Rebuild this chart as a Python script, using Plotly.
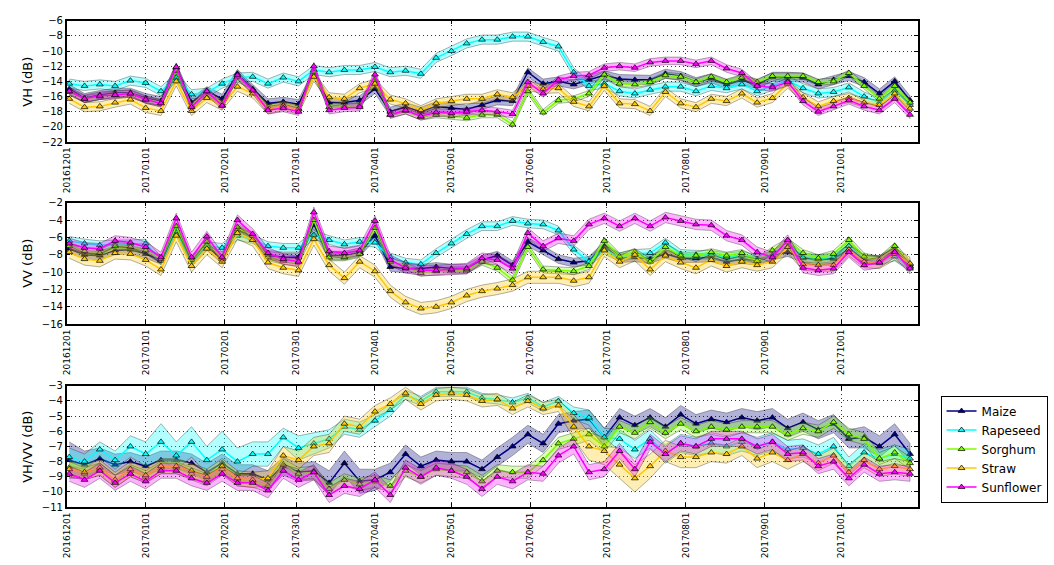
import datetime as dt
import plotly.graph_objects as go

# Acquisition dates: 6-day revisit from 2016-12-02
start = dt.date(2016, 12, 2)
dates = [start + dt.timedelta(days=6 * k) for k in range(56)]

crops = ["Maize", "Rapeseed", "Sorghum", "Straw", "Sunflower"]
colors = {"Maize": "#000080", "Rapeseed": "#00FFFF", "Sorghum": "#7CFC00",
          "Straw": "#FFC800", "Sunflower": "#FF00FF"}

# ---- VH backscatter (dB), mean per crop ----
vh_maize = [-15.0, -16.2, -15.8, -15.5, -15.5, -16.2, -16.6, -12.2, -16.8, -15.3, -16.3, -13.0, -15.0, -16.9,
            -16.7, -17.0, -13.0, -16.8, -16.8, -16.5, -15.0, -18.0, -17.4, -18.0, -17.3, -17.5, -17.7, -17.1,
            -16.5, -16.6, -12.8, -14.3, -14.0, -14.4, -13.8, -13.2, -13.7, -13.8, -13.8, -13.0, -13.3, -14.1,
            -13.6, -14.4, -13.8, -14.4, -13.4, -13.4, -13.5, -14.4, -13.8, -13.3, -14.1, -15.6, -14.0, -16.5]
vh_rapeseed = [-14.3, -14.6, -14.4, -14.6, -13.9, -14.2, -15.3, -13.5, -15.7, -15.5, -14.3, -13.5, -13.4, -14.3,
               -13.5, -14.0, -12.5, -12.8, -12.5, -12.5, -12.1, -12.8, -12.6, -13.0, -10.9, -10.0, -9.0, -8.5,
               -8.5, -8.1, -8.1, -8.8, -9.4, -12.8, -14.6, -14.3, -15.3, -15.6, -15.1, -14.7, -14.7, -15.3,
               -14.6, -14.9, -14.4, -15.3, -14.6, -13.9, -14.9, -15.6, -15.4, -14.8, -16.0, -16.8, -15.2, -17.1]
vh_sorghum = [-15.4, -16.3, -16.0, -15.7, -15.6, -16.4, -16.8, -12.6, -17.2, -15.4, -16.9, -13.4, -15.2, -17.4,
              -17.2, -17.6, -12.8, -17.4, -17.3, -17.2, -13.8, -18.4, -17.9, -18.7, -18.4, -18.6, -18.8, -18.4,
              -18.4, -19.7, -15.3, -18.1, -16.5, -16.3, -15.6, -13.1, -14.3, -14.4, -14.1, -13.2, -13.4, -14.1,
              -13.4, -14.1, -13.5, -14.1, -13.3, -13.3, -13.3, -14.1, -14.0, -12.9, -14.6, -16.3, -14.6, -16.8]
vh_straw = [-16.3, -17.4, -17.3, -16.8, -16.4, -17.5, -17.9, -14.0, -17.9, -16.2, -17.2, -14.7, -15.6, -17.7,
            -17.2, -17.7, -13.4, -16.1, -16.3, -14.9, -14.3, -16.4, -16.9, -17.8, -16.9, -16.6, -16.3, -16.3,
            -15.7, -16.1, -14.6, -15.0, -14.9, -16.7, -17.3, -14.6, -16.9, -17.0, -17.9, -15.4, -16.9, -17.4,
            -16.3, -16.6, -15.6, -16.8, -16.2, -14.3, -16.1, -17.3, -16.6, -16.2, -16.8, -17.1, -15.6, -17.6]
vh_sunflower = [-15.3, -16.3, -15.9, -15.8, -15.6, -16.4, -16.9, -12.1, -17.4, -15.3, -17.2, -13.2, -15.2, -17.8,
                -17.5, -18.0, -12.0, -17.8, -17.5, -17.4, -13.1, -18.4, -17.8, -18.6, -18.1, -18.2, -18.0, -17.8,
                -18.0, -18.3, -14.1, -15.6, -13.8, -13.3, -13.2, -12.2, -12.0, -12.2, -11.5, -11.3, -11.3, -11.7,
                -11.3, -12.3, -12.9, -14.6, -14.8, -14.1, -16.6, -18.0, -17.3, -16.5, -17.3, -17.8, -16.3, -18.4]

# ---- VV backscatter (dB) ----
vv_maize = [-7.3, -8.0, -8.1, -7.5, -7.4, -7.9, -8.6, -5.1, -8.8, -7.0, -8.5, -5.1, -6.0, -8.1,
            -8.3, -8.3, -4.5, -8.1, -8.1, -7.7, -5.8, -9.4, -9.6, -9.6, -9.4, -9.6, -9.6, -8.6,
            -8.1, -9.2, -6.5, -7.5, -8.5, -8.9, -8.7, -7.0, -8.4, -8.3, -8.5, -7.9, -8.4, -8.4,
            -8.3, -8.8, -8.5, -8.7, -8.1, -7.7, -8.4, -8.5, -8.5, -7.3, -8.6, -8.6, -7.5, -9.3]
vv_rapeseed = [-6.4, -6.7, -6.9, -6.8, -6.8, -6.7, -8.7, -5.3, -8.8, -7.0, -7.2, -5.8, -6.2, -7.0,
               -7.2, -7.2, -5.7, -6.3, -6.8, -6.5, -6.6, -8.3, -8.9, -9.1, -7.8, -6.7, -5.6, -4.7,
               -4.7, -4.1, -4.4, -4.5, -5.2, -7.4, -8.8, -7.4, -8.3, -7.9, -7.8, -6.6, -7.9, -8.0,
               -8.0, -8.3, -8.1, -8.5, -8.1, -6.6, -8.3, -8.5, -8.3, -7.0, -8.5, -8.7, -8.2, -9.4]
vv_sorghum = [-7.0, -7.6, -7.8, -7.0, -7.1, -7.5, -8.5, -4.7, -8.6, -6.5, -8.4, -4.8, -5.8, -8.3,
              -8.7, -8.9, -4.0, -8.3, -8.3, -7.9, -4.9, -8.8, -9.3, -10.1, -9.9, -9.8, -9.8, -8.8,
              -9.5, -10.9, -7.1, -9.7, -9.8, -9.9, -9.3, -6.4, -8.2, -7.7, -8.8, -7.1, -8.1, -8.1,
              -7.7, -8.1, -7.8, -8.7, -7.5, -6.5, -7.8, -8.4, -7.9, -6.3, -8.2, -8.6, -7.0, -9.1]
vv_straw = [-7.7, -8.5, -8.7, -7.8, -7.9, -8.6, -9.7, -5.8, -9.3, -7.3, -8.8, -5.5, -6.3, -8.9,
            -9.5, -9.8, -6.2, -9.2, -10.7, -8.8, -9.9, -12.2, -13.5, -14.2, -14.0, -13.5, -12.7, -12.2,
            -11.9, -11.5, -10.6, -10.6, -10.6, -11.0, -10.6, -7.5, -8.8, -8.0, -9.7, -8.1, -8.9, -9.5,
            -8.6, -9.3, -8.8, -9.2, -8.8, -7.1, -9.1, -9.2, -9.2, -7.4, -8.8, -8.9, -7.9, -9.0]
vv_sunflower = [-6.7, -7.2, -7.3, -6.4, -6.6, -7.1, -8.3, -3.8, -8.3, -5.9, -8.3, -4.0, -5.6, -7.8,
                -8.5, -8.8, -3.1, -7.6, -7.8, -7.5, -4.1, -8.6, -9.5, -9.8, -9.8, -9.7, -9.6, -8.4,
                -8.6, -9.6, -5.5, -7.0, -6.1, -6.4, -4.5, -3.8, -4.7, -3.8, -4.7, -3.7, -4.1, -4.5,
                -4.6, -5.8, -6.3, -7.7, -8.3, -6.3, -9.5, -9.8, -9.6, -7.7, -9.2, -8.9, -7.7, -9.6]

# ---- VH/VV ratio (dB) ----
ratio_maize = [-7.9, -8.2, -7.8, -8.2, -8.0, -8.3, -7.9, -7.9, -8.1, -8.7, -8.1, -8.8, -8.8, -9.2,
               -8.3, -8.7, -8.6, -9.4, -8.1, -9.3, -9.2, -8.7, -7.5, -8.3, -7.9, -8.0, -8.0, -8.5,
               -7.7, -7.0, -6.2, -6.8, -5.5, -5.3, -5.2, -6.4, -5.1, -5.6, -5.1, -5.7, -4.9, -5.5,
               -5.2, -5.4, -5.1, -5.3, -5.1, -5.8, -5.4, -5.9, -5.5, -6.5, -6.4, -7.0, -6.2, -7.5]
ratio_rapeseed = [-7.7, -8.0, -7.2, -7.9, -7.0, -7.5, -6.7, -7.6, -6.7, -7.9, -7.2, -8.0, -7.5, -7.5,
                  -6.4, -7.1, -6.8, -6.5, -5.7, -5.9, -5.3, -4.6, -3.6, -4.0, -3.4, -3.4, -3.4, -3.8,
                  -3.9, -4.1, -3.8, -4.4, -4.0, -4.8, -5.1, -6.4, -6.5, -7.2, -6.5, -7.5, -6.8, -7.0,
                  -6.8, -7.0, -6.7, -7.0, -6.7, -7.2, -7.1, -7.5, -7.0, -8.3, -7.4, -7.8, -7.5, -7.8]
ratio_sorghum = [-8.4, -8.8, -8.5, -9.3, -8.6, -9.0, -8.4, -8.4, -8.8, -9.2, -8.5, -9.2, -9.3, -9.6,
                 -8.2, -8.8, -8.7, -9.8, -9.2, -9.5, -9.3, -9.6, -8.6, -9.0, -8.5, -8.6, -8.7, -9.3,
                 -8.6, -8.7, -8.7, -7.9, -6.8, -6.5, -6.2, -7.0, -5.7, -6.1, -5.4, -6.1, -5.5, -6.0,
                 -5.7, -5.9, -5.7, -5.7, -5.7, -6.2, -5.8, -6.0, -5.4, -6.2, -6.5, -7.8, -7.4, -8.1]
ratio_straw = [-8.5, -8.7, -8.4, -9.2, -8.5, -8.9, -8.3, -8.3, -8.6, -9.0, -8.3, -9.1, -9.2, -9.1,
               -7.6, -7.9, -7.0, -6.8, -5.5, -5.7, -4.7, -4.2, -3.5, -4.2, -3.6, -3.5, -3.6, -4.0,
               -3.9, -4.5, -4.0, -4.5, -4.3, -5.7, -7.0, -7.3, -8.2, -9.1, -8.3, -7.3, -7.7, -7.7,
               -7.4, -7.5, -7.0, -7.8, -7.4, -7.9, -7.5, -8.1, -7.6, -8.7, -7.9, -8.5, -8.3, -8.5]
ratio_sunflower = [-8.8, -9.2, -8.6, -9.4, -8.8, -9.3, -8.6, -8.6, -9.1, -9.4, -8.8, -9.4, -9.4, -9.9,
                   -8.6, -9.2, -8.7, -10.2, -9.6, -9.8, -9.2, -10.2, -8.4, -9.0, -8.4, -8.6, -9.0, -9.8,
                   -9.0, -9.3, -8.7, -8.8, -7.6, -7.0, -8.7, -8.5, -7.3, -8.5, -6.7, -7.5, -6.8, -7.0,
                   -6.5, -6.5, -6.5, -7.0, -6.7, -7.5, -7.4, -8.3, -8.0, -9.1, -8.2, -8.8, -8.7, -8.8]

# Standard deviation among parcels (dB), drawn as the shaded bands
vh_std = [0.6, 0.6, 0.4, 0.6, 0.5]
vv_std = [0.5, 0.5, 0.4, 0.7, 0.6]
ratio_maize_std = [1.2, 0.9, 0.7, 0.7, 0.6, 0.6, 0.6, 0.6, 0.6, 0.6, 0.6, 0.6, 0.6, 0.6,
                   0.6, 0.6, 0.6, 0.8, 0.8, 0.8, 0.7, 0.6, 0.6, 0.6, 0.6, 0.6, 0.6, 0.6,
                   0.6, 0.6, 0.6, 0.6, 0.6, 0.6, 0.6, 0.6, 0.6, 0.6, 0.6, 0.6, 0.6, 0.6,
                   0.6, 0.6, 0.6, 0.6, 0.6, 0.6, 0.6, 0.6, 0.6, 0.6, 0.7, 0.7, 0.7, 0.7]
ratio_rapeseed_std = [0.6, 0.5, 0.5, 0.6, 0.7, 0.8, 1.2, 0.9, 1.0, 0.9, 1.2, 0.9, 0.8, 0.8,
                      0.6, 0.8, 0.7, 0.6, 0.5, 0.5, 0.4, 0.4, 0.3, 0.3, 0.3, 0.3, 0.3, 0.3,
                      0.3, 0.3, 0.3, 0.3, 0.3, 0.4, 0.5, 0.6, 0.6, 0.6, 0.6, 0.6, 0.6, 0.6,
                      0.6, 0.6, 0.6, 0.6, 0.6, 0.6, 0.6, 0.6, 0.6, 0.6, 0.6, 0.6, 0.6, 0.6]
ratio_straw_std = [0.5, 0.5, 0.5, 0.5, 0.5, 0.5, 0.5, 0.5, 0.5, 0.5, 0.5, 0.5, 0.5, 0.5,
                   0.6, 0.6, 0.6, 0.6, 0.5, 0.5, 0.4, 0.4, 0.4, 0.4, 0.4, 0.4, 0.4, 0.4,
                   0.4, 0.4, 0.4, 0.4, 0.4, 0.8, 0.9, 0.9, 0.9, 0.9, 0.8, 0.7, 0.7, 0.7,
                   0.6, 0.6, 0.6, 0.6, 0.6, 0.6, 0.5, 0.5, 0.5, 0.5, 0.5, 0.5, 0.5, 0.5]
ratio_std = [ratio_maize_std, ratio_rapeseed_std, 0.4, ratio_straw_std, 0.5]

panels = [
    ("VH (dB)", [vh_maize, vh_rapeseed, vh_sorghum, vh_straw, vh_sunflower], vh_std, [-22, -6], 2),
    ("VV (dB)", [vv_maize, vv_rapeseed, vv_sorghum, vv_straw, vv_sunflower], vv_std, [-16, -2], 2),
    ("VH/VV (dB)", [ratio_maize, ratio_rapeseed, ratio_sorghum, ratio_straw, ratio_sunflower], ratio_std, [-11, -3], 1),
]

W, H = 1054, 565
x0, x1 = 62, 917
panel_px = [(15, 139), (201, 325), (388, 512)]


def rgba(hex_color, a):
    h = hex_color.lstrip("#")
    r, g, b = int(h[0:2], 16), int(h[2:4], 16), int(h[4:6], 16)
    return f"rgba({r},{g},{b},{a})"


fig = go.Figure()
font = "DejaVu Sans, Liberation Sans, sans-serif"
annotations = []

for p, (label, series, stds, yrange, dtick) in enumerate(panels):
    xa = "x" if p == 0 else f"x{p + 1}"
    ya = "y" if p == 0 else f"y{p + 1}"
    for crop, vals, sd in zip(crops, series, stds):
        c = colors[crop]
        sds = sd if isinstance(sd, list) else [sd] * len(vals)
        upper = [v + s for v, s in zip(vals, sds)]
        lower = [v - s for v, s in zip(vals, sds)]
        fig.add_trace(go.Scatter(
            x=dates + dates[::-1], y=upper + lower[::-1],
            fill="toself", fillcolor=rgba(c, 0.3),
            line=dict(color="rgba(0,0,0,0.3)", width=1),
            mode="lines", hoverinfo="skip", showlegend=False,
            xaxis=xa, yaxis=ya))
        fig.add_trace(go.Scatter(
            x=dates, y=vals, mode="lines+markers", name=crop,
            line=dict(color=c, width=1.5),
            marker=dict(symbol="triangle-up", size=6, color=c,
                        line=dict(color="black", width=0.7)),
            showlegend=(p == 0), legendgroup=crop,
            xaxis=xa, yaxis=ya))

    top, bot = panel_px[p]
    axis_common = dict(showline=True, linecolor="black", linewidth=1.5, mirror="ticks",
                       ticks="inside", ticklen=4, tickcolor="black",
                       showgrid=True, gridcolor="rgba(0,0,0,0.8)", griddash="1px,3px", gridwidth=1,
                       zeroline=False)
    fig.update_layout(**{
        ("xaxis" if p == 0 else f"xaxis{p + 1}"): dict(
            axis_common, type="date", domain=[x0 / W, x1 / W],
            range=["2016-12-01", "2017-10-31"], tick0="2016-12-01", dtick="M1",
            tickformat="%Y%m%d", tickangle=-90, anchor=ya,
            tickfont=dict(family=font, size=9, color="black")),
        ("yaxis" if p == 0 else f"yaxis{p + 1}"): dict(
            axis_common, domain=[1 - bot / H, 1 - top / H], range=yrange, dtick=dtick,
            anchor=xa, tickfont=dict(family=font, size=10, color="black")),
    })
    # rotated y-axis label for this panel
    annotations.append(dict(
        text=label, textangle=-90, xref="paper", yref="paper",
        x=22.5 / W, y=1 - (top + bot) / 2 / H, xanchor="center", yanchor="middle",
        showarrow=False, font=dict(family=font, size=13, color="black")))

fig.update_layout(
    width=W, height=H, margin=dict(l=0, r=0, t=0, b=0),
    paper_bgcolor="white", plot_bgcolor="white",
    font=dict(family=font, color="black"),
    annotations=annotations,
    legend=dict(x=940 / W, y=1 - 398 / H, xanchor="left", yanchor="top",
                bgcolor="white", bordercolor="black", borderwidth=1,
                font=dict(family=font, size=12, color="black"),
                tracegroupgap=0, itemwidth=30),
)

fig.write_html("out.html")
